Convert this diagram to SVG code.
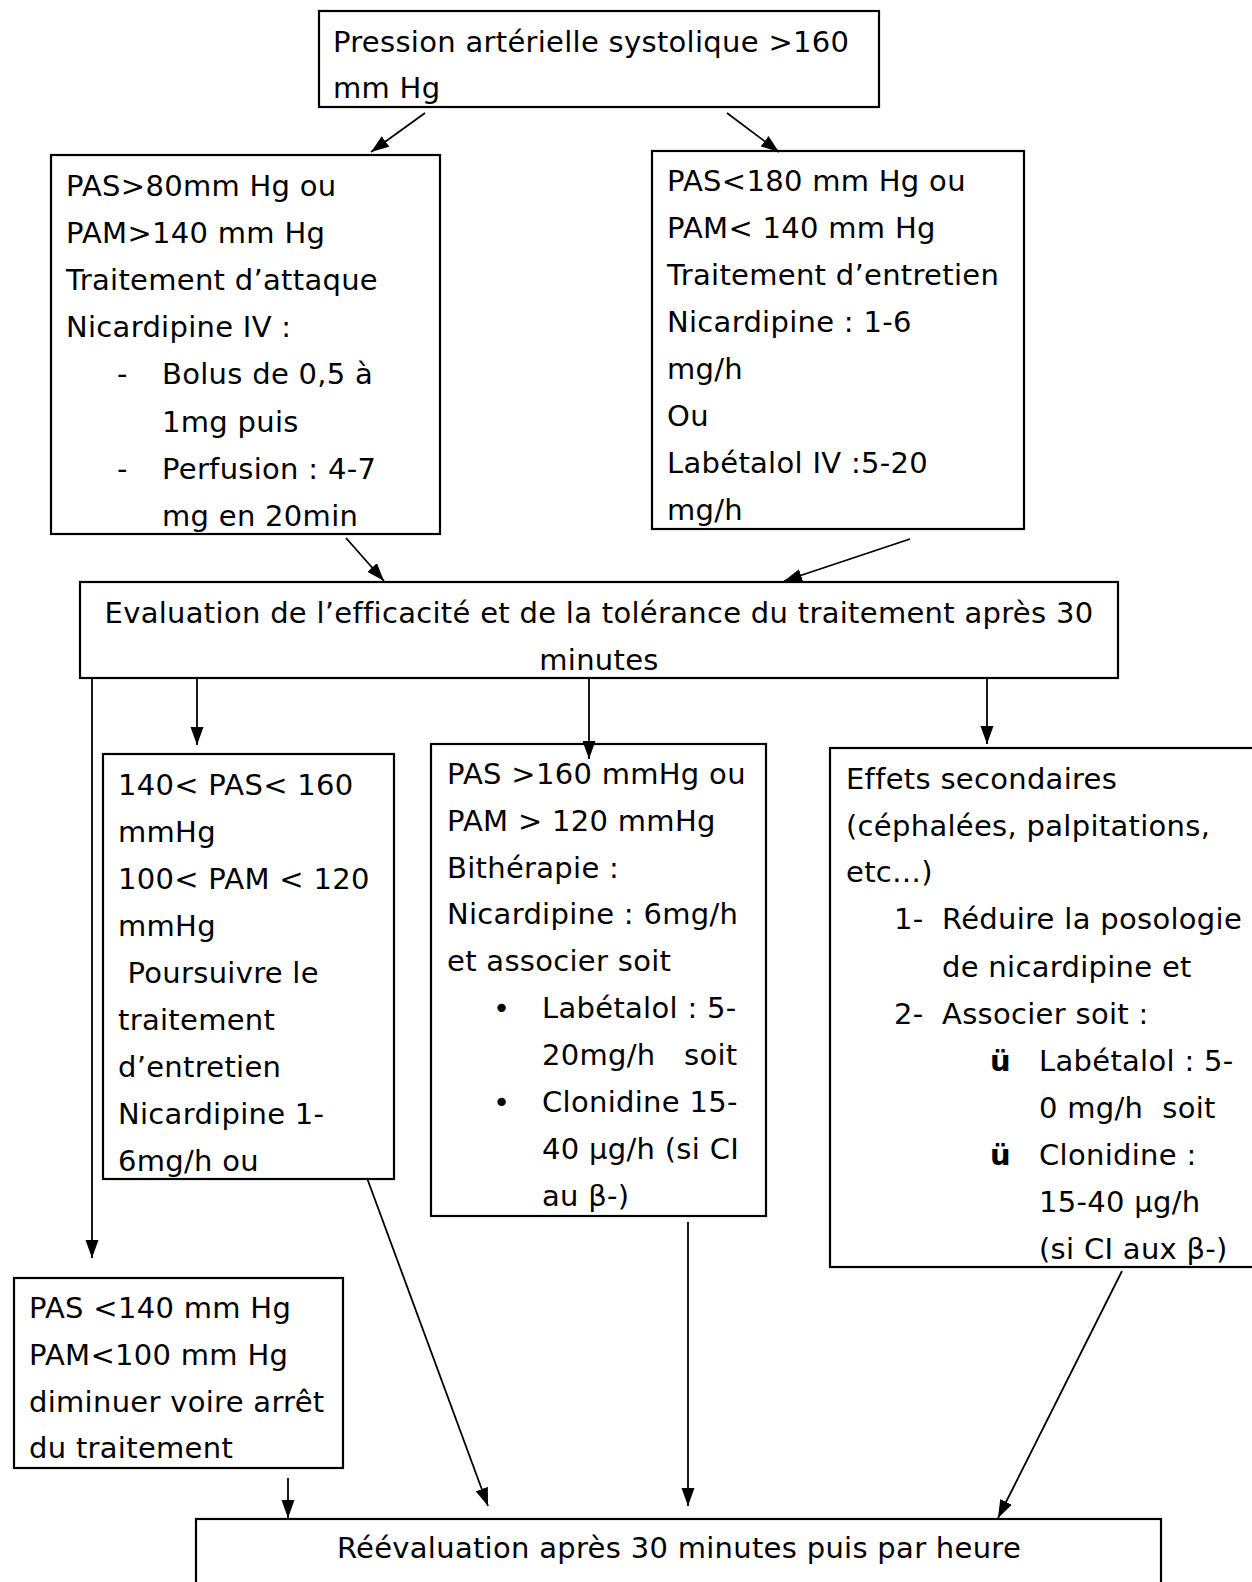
<svg xmlns="http://www.w3.org/2000/svg" width="1252" height="1582" viewBox="0 0 1252 1582">
  <style>
    .box { fill: #fff; stroke: #000; stroke-width: 2.2; }
    .t { font-family: "DejaVu Sans", "Liberation Sans", sans-serif; font-size: 29px; letter-spacing: 0.3px; fill: #000; white-space: pre; }
    .c { text-anchor: middle; }
    .b { font-weight: bold; }
    .link { stroke: #000; stroke-width: 1.8; fill: none; marker-end: url(#arrow); }
  </style>
  <defs>
    <marker id="arrow" markerUnits="userSpaceOnUse" markerWidth="18" markerHeight="14" viewBox="0 0 18 14" refX="18" refY="7" orient="auto">
      <path d="M0,0.5 L18,7 L0,13.5 Z" fill="#000"/>
    </marker>
  </defs>
  <rect width="1252" height="1582" fill="#fff"/>

  <!-- nodes -->
  <g id="pas-systolique">
    <rect class="box" x="319" y="11" width="560" height="96"/>
    <text class="t" x="333" y="52">Pression artérielle systolique &gt;160</text>
    <text class="t" x="333" y="98">mm Hg</text>
  </g>

  <g id="traitement-attaque">
    <rect class="box" x="51" y="155" width="389" height="379"/>
    <text class="t" x="66" y="196">PAS&gt;80mm Hg ou</text>
    <text class="t" x="66" y="243">PAM&gt;140 mm Hg</text>
    <text class="t" x="66" y="290">Traitement d’attaque</text>
    <text class="t" x="66" y="337">Nicardipine IV :</text>
    <text class="t" x="117" y="384">-</text>
    <text class="t" x="162" y="384">Bolus de 0,5 à</text>
    <text class="t" x="162" y="432">1mg puis</text>
    <text class="t" x="117" y="479">-</text>
    <text class="t" x="162" y="479">Perfusion : 4-7</text>
    <text class="t" x="162" y="526">mg en 20min</text>
  </g>

  <g id="traitement-entretien">
    <rect class="box" x="652" y="151" width="372" height="378"/>
    <text class="t" x="667" y="191">PAS&lt;180 mm Hg ou</text>
    <text class="t" x="667" y="238">PAM&lt; 140 mm Hg</text>
    <text class="t" x="667" y="285">Traitement d’entretien</text>
    <text class="t" x="667" y="332">Nicardipine : 1-6</text>
    <text class="t" x="667" y="379">mg/h</text>
    <text class="t" x="667" y="426">Ou</text>
    <text class="t" x="667" y="473">Labétalol IV :5-20</text>
    <text class="t" x="667" y="520">mg/h</text>
  </g>

  <g id="evaluation">
    <rect class="box" x="80" y="582" width="1038" height="96"/>
    <text class="t c" x="599" y="623">Evaluation de l’efficacité et de la tolérance du traitement après 30</text>
    <text class="t c" x="599" y="670">minutes</text>
  </g>

  <g id="poursuivre">
    <rect class="box" x="103" y="754" width="291" height="425"/>
    <text class="t" x="118" y="795">140&lt; PAS&lt; 160</text>
    <text class="t" x="118" y="842">mmHg</text>
    <text class="t" x="118" y="889">100&lt; PAM &lt; 120</text>
    <text class="t" x="118" y="936">mmHg</text>
    <text class="t" x="118" y="983"> Poursuivre le</text>
    <text class="t" x="118" y="1030">traitement</text>
    <text class="t" x="118" y="1077">d’entretien</text>
    <text class="t" x="118" y="1124">Nicardipine 1-</text>
    <text class="t" x="118" y="1171">6mg/h ou</text>
  </g>

  <g id="bitherapie">
    <rect class="box" x="431" y="744" width="335" height="472"/>
    <text class="t" x="447" y="784">PAS &gt;160 mmHg ou</text>
    <text class="t" x="447" y="831">PAM &gt; 120 mmHg</text>
    <text class="t" x="447" y="878">Bithérapie :</text>
    <text class="t" x="447" y="924">Nicardipine : 6mg/h</text>
    <text class="t" x="447" y="971">et associer soit</text>
    <text class="t" x="493" y="1018">•</text>
    <text class="t" x="542" y="1018">Labétalol : 5-</text>
    <text class="t" x="542" y="1065">20mg/h   soit</text>
    <text class="t" x="493" y="1112">•</text>
    <text class="t" x="542" y="1112">Clonidine 15-</text>
    <text class="t" x="542" y="1159">40 µg/h (si CI</text>
    <text class="t" x="542" y="1206">au β-)</text>
  </g>

  <g id="effets-secondaires">
    <rect class="box" x="830" y="748" width="450" height="519"/>
    <text class="t" x="846" y="789">Effets secondaires</text>
    <text class="t" x="846" y="836">(céphalées, palpitations,</text>
    <text class="t" x="846" y="882">etc…)</text>
    <text class="t" x="894" y="929">1-</text>
    <text class="t" x="942" y="929">Réduire la posologie</text>
    <text class="t" x="942" y="977">de nicardipine et</text>
    <text class="t" x="894" y="1024">2-</text>
    <text class="t" x="942" y="1024">Associer soit :</text>
    <text class="t b" x="990" y="1071">ü</text>
    <text class="t" x="1039" y="1071">Labétalol : 5-</text>
    <text class="t" x="1039" y="1118">0 mg/h  soit</text>
    <text class="t b" x="990" y="1165">ü</text>
    <text class="t" x="1039" y="1165">Clonidine :</text>
    <text class="t" x="1039" y="1212">15-40 µg/h</text>
    <text class="t" x="1039" y="1259">(si CI aux β-)</text>
  </g>

  <g id="arret">
    <rect class="box" x="14" y="1278" width="329" height="190"/>
    <text class="t" x="29" y="1318">PAS &lt;140 mm Hg</text>
    <text class="t" x="29" y="1365">PAM&lt;100 mm Hg</text>
    <text class="t" x="29" y="1412">diminuer voire arrêt</text>
    <text class="t" x="29" y="1458">du traitement</text>
  </g>

  <g id="reevaluation">
    <rect class="box" x="196" y="1519" width="965" height="90"/>
    <text class="t c" x="679" y="1558">Réévaluation après 30 minutes puis par heure</text>
  </g>

  <!-- connectors -->
  <g id="connectors">
    <line class="link" x1="425" y1="113" x2="371" y2="152"/>
    <line class="link" x1="727" y1="113" x2="779" y2="152"/>
    <line class="link" x1="346" y1="538" x2="384" y2="581"/>
    <line class="link" x1="910" y1="539" x2="784" y2="581"/>
    <line class="link" x1="92" y1="678" x2="92" y2="1258"/>
    <line class="link" x1="197" y1="678" x2="197" y2="745"/>
    <line class="link" x1="589" y1="678" x2="589" y2="759"/>
    <line class="link" x1="987" y1="678" x2="987" y2="744"/>
    <line class="link" x1="367" y1="1178" x2="488" y2="1506"/>
    <line class="link" x1="688" y1="1222" x2="688" y2="1506"/>
    <line class="link" x1="1122" y1="1271" x2="998" y2="1518"/>
    <line class="link" x1="288" y1="1478" x2="288" y2="1518"/>
  </g>
</svg>
